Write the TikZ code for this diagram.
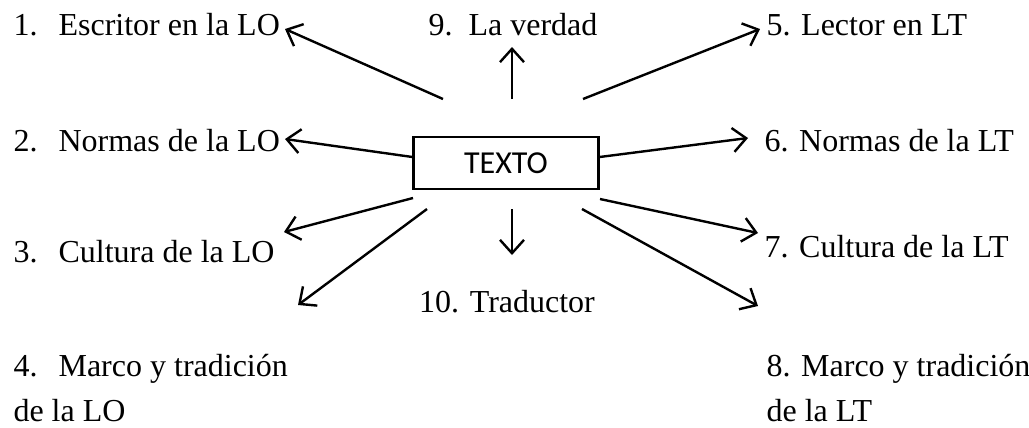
\documentclass[tikz,border=0pt]{standalone}
\usepackage{fontspec}
\setmainfont{Liberation Serif}
\newfontfamily\boxfont{Carlito}
\usetikzlibrary{arrows.meta}
\begin{document}
\begin{tikzpicture}[x=0.375pt,y=-0.375pt,
  lbl/.style={anchor=base west,inner sep=0pt,font=\fontsize{12}{14}\selectfont},
  clbl/.style={anchor=base,inner sep=0pt,font=\fontsize{12}{14}\selectfont},
  arr/.style={line width=0.9pt,-{Straight Barb[length=5pt,width=9pt,line width=0.9pt]}},
  textbox/.style={draw,line width=0.8pt,minimum width=69.4pt,minimum height=19.5pt,inner sep=0pt,font=\boxfont\fontsize{12}{14}\selectfont}]
\useasboundingbox (0,0) rectangle (1029,427);
\newcommand{\numA}[1]{\makebox[16.9pt][l]{#1}}
% central box
\node[textbox] (texto) at (506,163) {TEXTO};
% left labels
\node[lbl] (n1) at (13,35) {\numA{1.}Escritor en la LO};
\node[lbl] (n2) at (13,151) {\numA{2.}Normas de la LO};
\node[lbl] (n3) at (13,262) {\numA{3.}Cultura de la LO};
\node[lbl] (n4) at (13,376) {\numA{4.}Marco y tradición};
\node[lbl] (n4b) at (13,421) {de la LO};
% right labels
\node[lbl] (n5) at (766,35) {5. Lector en LT};
\node[lbl] (n6) at (764,151) {6. Normas de la LT};
\node[lbl] (n7) at (764,257) {7. Cultura de la LT};
\node[lbl] (n8) at (766,376) {8. Marco y tradición};
\node[lbl] (n8b) at (766,421) {de la LT};
% center labels
\node[lbl] (n9) at (428,35) {\makebox[15pt][l]{9.}La verdad};
\node[clbl] (n10) at (507,312) {10. Traductor};
% arrow ends
\coordinate (t1) at (443,99);   \coordinate (h1) at (285,29);
\coordinate (t2) at (texto.west |- 0,157); \coordinate (h2) at (285,139);
\coordinate (t3) at (413,198);  \coordinate (h3) at (284,232);
\coordinate (t4) at (427,209);  \coordinate (h4) at (298,305);
\coordinate (t5) at (583,99);   \coordinate (h5) at (760,29);
\coordinate (t6) at (texto.east |- 0,157); \coordinate (h6) at (748,138);
\coordinate (t7) at (600,199);  \coordinate (h7) at (758,233);
\coordinate (t8) at (582,209);  \coordinate (h8) at (758,306);
\coordinate (t9) at (512,99);   \coordinate (h9) at (512,47);
\coordinate (t10) at (512,209); \coordinate (h10) at (512,255);
\foreach \i in {1,...,10} {\draw[arr] (t\i) -- (h\i);}
\end{tikzpicture}
\end{document}
